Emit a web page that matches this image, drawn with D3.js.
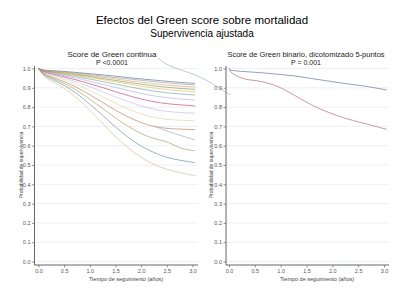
<!DOCTYPE html>
<html><head><meta charset="utf-8">
<script src="https://cdn.jsdelivr.net/npm/d3@7/dist/d3.min.js"></script>
<style>body{margin:0;background:#fff}svg{display:block}text{font-family:"Liberation Sans",Arial,sans-serif}</style>
</head><body><svg id="c" width="404" height="304"></svg>
<script>
const mainTitle = "Efectos del Green score sobre mortalidad";
const subTitle = "Supervivencia ajustada";
const panelTitles = ["Score de Green continua", "Score de Green binario, dicotomizado 5-puntos"];
const panelPvals = ["P <0.0001", "P = 0.001"];
const xLabel = "Tiempo de seguimiento (años)";
const yLabel = "Probabilidad de supervivencia";
const xTicks = [0, 0.5, 1, 1.5, 2, 2.5, 3];
const yTicks = [0, 0.1, 0.2, 0.3, 0.4, 0.5, 0.6, 0.7, 0.8, 0.9, 1.0];

// time points of the left-panel curves
const timesL = [0, 0.05, 0.1, 0.25, 0.5, 0.75, 1.0, 1.25, 1.5, 1.75, 2.0, 2.25, 2.5, 2.75, 3.05];
const leftColors = ["#3a5a80","#8c8aa0","#e0964a","#5f8a4a","#eab030","#5f9890","#a99ed8","#b8204e","#b9b2e2","#d8cc8a","#b0664a","#9c8847","#3a8290","#c8b478","#8aa0b8"];
const curveL1  = [1, 0.995, 0.992, 0.989, 0.985, 0.979, 0.973, 0.967, 0.960, 0.953, 0.946, 0.940, 0.934, 0.928, 0.923];
const curveL2  = [1, 0.994, 0.991, 0.987, 0.982, 0.975, 0.968, 0.961, 0.953, 0.946, 0.939, 0.932, 0.926, 0.920, 0.915];
const curveL3  = [1, 0.994, 0.990, 0.985, 0.979, 0.971, 0.963, 0.955, 0.946, 0.937, 0.929, 0.921, 0.914, 0.909, 0.904];
const curveL4  = [1, 0.993, 0.989, 0.983, 0.975, 0.967, 0.958, 0.948, 0.938, 0.928, 0.919, 0.910, 0.903, 0.897, 0.892];
const curveL5  = [1, 0.993, 0.988, 0.981, 0.972, 0.963, 0.953, 0.942, 0.931, 0.920, 0.909, 0.899, 0.891, 0.885, 0.880];
const curveL6  = [1, 0.992, 0.987, 0.979, 0.968, 0.957, 0.945, 0.932, 0.919, 0.906, 0.894, 0.883, 0.874, 0.868, 0.863];
const curveL7  = [1, 0.991, 0.985, 0.976, 0.963, 0.949, 0.934, 0.918, 0.902, 0.886, 0.871, 0.858, 0.849, 0.842, 0.837];
const curveL8  = [1, 0.990, 0.983, 0.972, 0.957, 0.940, 0.921, 0.901, 0.880, 0.860, 0.842, 0.828, 0.818, 0.812, 0.806];
const curveL9  = [1, 0.989, 0.981, 0.968, 0.950, 0.929, 0.905, 0.879, 0.853, 0.828, 0.806, 0.789, 0.778, 0.772, 0.768];
const curveL10 = [1, 0.987, 0.978, 0.963, 0.942, 0.916, 0.886, 0.853, 0.820, 0.790, 0.765, 0.747, 0.737, 0.732, 0.728];
const curveL11 = [1, 0.985, 0.975, 0.957, 0.932, 0.901, 0.864, 0.824, 0.784, 0.749, 0.720, 0.700, 0.690, 0.686, 0.683];
const curveL12 = [1, 0.984, 0.972, 0.952, 0.923, 0.886, 0.841, 0.793, 0.744, 0.700, 0.663, 0.637, 0.620, 0.590, 0.573];
const curveL13 = [1, 0.982, 0.968, 0.945, 0.912, 0.869, 0.815, 0.757, 0.697, 0.643, 0.598, 0.565, 0.540, 0.525, 0.512];
const curveL14 = [1, 0.980, 0.963, 0.936, 0.897, 0.847, 0.784, 0.716, 0.648, 0.588, 0.540, 0.503, 0.478, 0.461, 0.445];
// short segment and the stray line that spills beyond the left plot
const timesShort = [2.27, 2.45, 2.65, 2.85, 3.05];
const curveShort = [0.700, 0.681, 0.663, 0.646, 0.630];
const timesStray = [2.33, 2.42, 2.55, 2.75, 3.0, 3.3, 3.6, 3.73];
const curveStray = [1.054, 1.035, 1.015, 0.995, 0.972, 0.935, 0.885, 0.863];

const timesR = [0, 0.03, 0.12, 0.25, 0.63, 0.95, 1.28, 1.6, 1.92, 2.25, 2.57, 3.05];
const rightColors = ["#3a5a80", "#a04a55"];
const curveR1 = [1, 0.992, 0.988, 0.985, 0.978, 0.970, 0.961, 0.948, 0.935, 0.922, 0.911, 0.889];
const curveR2 = [1, 0.985, 0.966, 0.950, 0.932, 0.906, 0.859, 0.811, 0.773, 0.742, 0.719, 0.685];

const svg = d3.select("#c");
svg.append("text").attr("x", 202).attr("y", 24).attr("text-anchor", "middle")
  .attr("font-size", 11.5).attr("fill", "#000").text(mainTitle);
svg.append("text").attr("x", 202).attr("y", 37).attr("text-anchor", "middle")
  .attr("font-size", 10).attr("fill", "#000").text(subTitle);

const y = d3.scaleLinear().domain([0, 1]).range([261.5, 68.5]);

function panel(cfg) {
  const g = svg.append("g");
  const x = d3.scaleLinear().domain([0, 3]).range(cfg.xr);
  g.selectAll("line.grid").data(yTicks).join("line")
    .attr("x1", cfg.axX).attr("x2", cfg.axXEnd)
    .attr("y1", d => y(d)).attr("y2", d => y(d))
    .attr("stroke", "#e8ecee").attr("stroke-width", 0.8);
  const ya = g.append("g").attr("transform", `translate(${cfg.axX},0)`)
    .call(d3.axisLeft(y).tickValues(yTicks).tickFormat(d3.format(".1f")).tickSize(2.5).tickPadding(1.5));
  ya.select(".domain").attr("d", `M0,${cfg.axYTop}V${cfg.axYBot}`);
  const xa = g.append("g").attr("transform", `translate(0,${cfg.axYBot})`)
    .call(d3.axisBottom(x).tickValues(xTicks).tickFormat(d3.format(".1f")).tickSize(2.5).tickPadding(1.5));
  xa.select(".domain").attr("d", `M${cfg.axX},0H${cfg.axXEnd}`);
  [ya, xa].forEach(a => {
    a.selectAll(".domain").attr("stroke", "#666").attr("stroke-width", 1);
    a.selectAll(".tick line").attr("stroke", "#666").attr("stroke-width", 0.7);
    a.selectAll("text").attr("font-size", 5.5).attr("fill", "#555").attr("font-family", "Liberation Sans, Arial, sans-serif");
  });
  const line = d3.line().x(d => x(d[0])).y(d => y(d[1])).curve(d3.curveMonotoneX);
  cfg.series.forEach(s => {
    g.append("path").attr("d", line(s.t.map((t, i) => [t, s.v[i]])))
      .attr("fill", "none").attr("stroke", s.c).attr("stroke-width", 0.7).attr("opacity", 0.8);
  });
  svg.append("text").attr("x", cfg.tx).attr("y", 56.5).attr("text-anchor", "middle")
    .attr("font-size", cfg.tfs).attr("fill", "#222").text(cfg.title);
  svg.append("text").attr("x", cfg.tx).attr("y", 65).attr("text-anchor", "middle")
    .attr("font-size", 7).attr("fill", "#222").text(cfg.p);
  svg.append("text").attr("x", cfg.xlx).attr("y", 280.5).attr("text-anchor", "middle")
    .attr("font-size", 5.5).attr("fill", "#444").text(xLabel);
  svg.append("text").attr("transform", `translate(${cfg.ylx},165) rotate(-90)`).attr("text-anchor", "middle")
    .attr("font-size", 5).attr("fill", "#444").text(yLabel);
}

const leftCurves = [curveL1, curveL2, curveL3, curveL4, curveL5, curveL6, curveL7, curveL8, curveL9, curveL10, curveL11, curveL12, curveL13, curveL14];
const leftSeries = leftCurves.map((v, i) => ({ t: timesL, v: v, c: leftColors[i] }));
leftSeries.push({ t: timesShort, v: curveShort, c: leftColors[14] });
leftSeries.push({ t: timesStray, v: curveStray, c: leftColors[14] });

panel({ xr: [38.5, 192.5], axX: 34.5, axXEnd: 198, axYTop: 66, axYBot: 265,
  series: leftSeries, tx: 112, tfs: 8, title: panelTitles[0], p: panelPvals[0], xlx: 126, ylx: 23 });
panel({ xr: [229, 384], axX: 226, axXEnd: 389, axYTop: 66, axYBot: 265,
  series: [{ t: timesR, v: curveR1, c: rightColors[0] }, { t: timesR, v: curveR2, c: rightColors[1] }],
  tx: 306, tfs: 7.5, title: panelTitles[1], p: panelPvals[1], xlx: 317, ylx: 213 });
</script></body></html>
